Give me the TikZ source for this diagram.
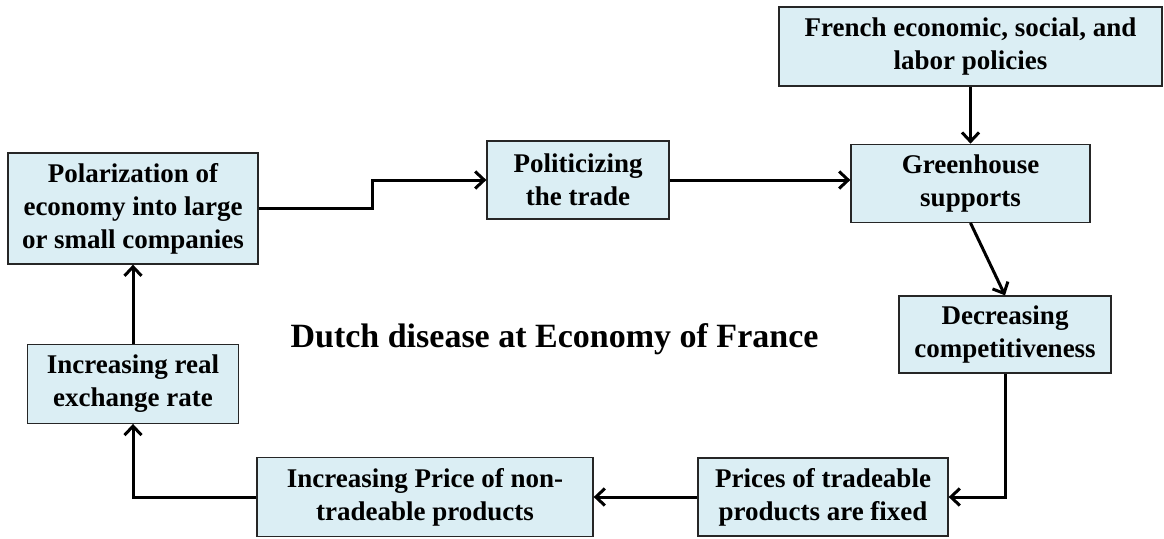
\documentclass[tikz,border=0pt]{standalone}
\usepackage{fontspec}
\setmainfont{Liberation Serif}
\usepackage{xcolor}
\definecolor{boxblue}{HTML}{DBEEF4}
\definecolor{boxline}{HTML}{262626}
\usetikzlibrary{arrows.meta, positioning}

\begin{document}
\begin{tikzpicture}[
  x=1pt, y=-1pt,
  box/.style={rectangle, draw=boxline, fill=boxblue, line width=1.3pt,
              align=center, inner sep=0pt, font=\fontsize{27}{33}\selectfont\bfseries},
  arrow/.style={-{Straight Barb[length=9pt, width=17pt]}, line width=3pt, black}
]
\useasboundingbox (0,0) rectangle (1164,538);

% top right
\node[box, minimum width=383pt, minimum height=79pt] (french) at (970.5,46.5)
  {French economic, social, and\\labor policies};
\node[box, minimum width=239pt, minimum height=78pt, below=57pt of french] (green)
  {Greenhouse\\supports};
\node[box, minimum width=182pt, minimum height=78pt] (polit) at (578,180)
  {Politicizing\\the trade};
\node[box, minimum width=250pt, minimum height=111pt] (polar) at (133,208.5)
  {Polarization of\\economy into large\\or small companies};
\node[box, minimum width=211pt, minimum height=79pt, below=79pt of polar] (realx)
  {Increasing real\\exchange rate};
\node[box, minimum width=212pt, minimum height=77pt] (decr) at (1005,334.5)
  {Decreasing\\competitiveness};
\node[box, minimum width=250pt, minimum height=78pt] (prices) at (823,497)
  {Prices of tradeable\\products are fixed};
\node[box, minimum width=336pt, minimum height=79pt] (incprice) at (425,497)
  {Increasing Price of non-\\tradeable products};

% title
\node[font=\fontsize{34}{40}\selectfont\bfseries, anchor=base] (title) at (554.5,347)
  {Dutch disease at Economy of France};

% connectors
\draw[arrow] (french) -- (green);
\draw[arrow] (polar.east) -- ++(114,0) |- (polit.west);
\draw[arrow] (polit.east) -- (polit.east -| green.west);
\draw[arrow] (green.south) -- (decr.north);
\draw[arrow] (decr.south) |- (prices.east);
\draw[arrow] (prices.west) -- (incprice.east);
\draw[arrow] (incprice.west) -| (realx.south);
\draw[arrow] (realx) -- (polar);
\end{tikzpicture}
\end{document}
